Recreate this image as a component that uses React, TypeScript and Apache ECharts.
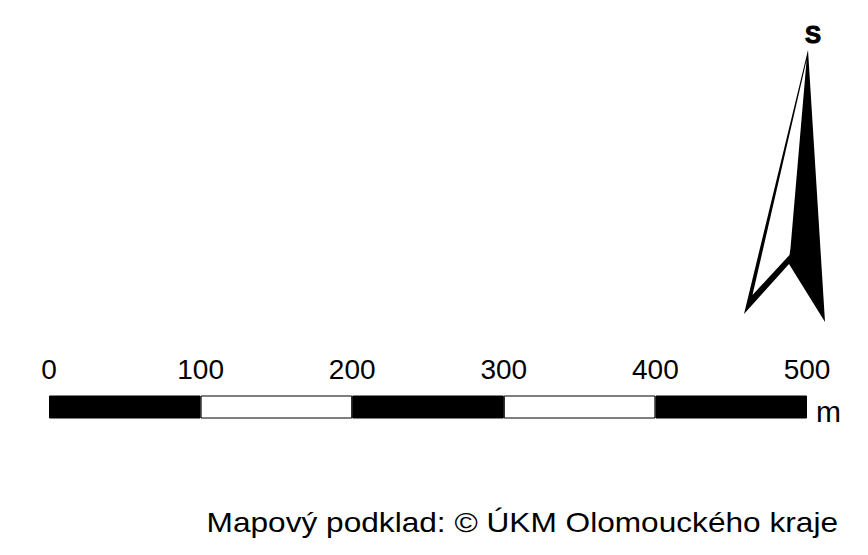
import React, { useEffect, useRef } from "react";
import * as echarts from "echarts";

// Scale bar: distance ticks (metres) and alternating segments
const tickValues = [0, 100, 200, 300, 400, 500];
const segmentLengths = [100, 100, 100, 100, 100];
const unitLabel = "m";
const northLabel = "S";
const creditText = "Mapový podklad: © ÚKM Olomouckého kraje";

export default function App() {
  const ref = useRef<HTMLDivElement>(null);
  useEffect(() => {
    if (!ref.current) return;
    const chart = echarts.init(ref.current, null, { renderer: "svg" });
    const font = "'Liberation Sans', Arial, sans-serif";
    const series = segmentLengths.map((v, i) => ({
      type: "bar",
      stack: "scale",
      data: [v],
      barWidth: 23,
      itemStyle: {
        color: i % 2 === 0 ? "#000" : "#fff",
        borderColor: "#000",
        borderWidth: 1,
      },
      silent: true,
    }));
    chart.setOption({
      animation: false,
      backgroundColor: "#fff",
      grid: { left: 49, right: 61, top: 395, height: 24 },
      xAxis: {
        type: "value",
        position: "top",
        min: tickValues[0],
        max: tickValues[tickValues.length - 1],
        interval: 100,
        axisLine: { show: false },
        axisTick: { show: false },
        splitLine: { show: false },
        axisLabel: {
          margin: 12,
          color: "#000",
          fontSize: 28,
          fontFamily: font,
          showMinLabel: true,
          showMaxLabel: true,
        },
      },
      yAxis: { type: "category", data: ["scale"], show: false },
      series,
      graphic: [
        {
          type: "polygon",
          shape: {
            points: [
              [808, 50],
              [825, 322],
              [789, 264],
              [744, 314],
            ],
          },
          style: { fill: "#000" },
          silent: true,
        },
        {
          type: "polygon",
          shape: {
            points: [
              [806.6, 60],
              [752.5, 295],
              [789.5, 255],
              [790.5, 248],
            ],
          },
          style: { fill: "#fff" },
          silent: true,
        },
        {
          type: "text",
          style: {
            text: northLabel,
            x: 813,
            y: 34,
            textAlign: "center",
            textVerticalAlign: "middle",
            font: `bold 24px ${font}`,
            fill: "#000",
            stroke: "#000",
            lineWidth: 1,
          },
        },
        {
          type: "text",
          style: {
            text: unitLabel,
            x: 816,
            y: 411,
            textAlign: "left",
            textVerticalAlign: "middle",
            fontSize: 30,
            fontFamily: font,
            fill: "#000",
          },
        },
        {
          type: "text",
          x: 838,
          y: 522,
          scaleX: 1.13,
          style: {
            text: creditText,
            x: 0,
            y: 0,
            textAlign: "right",
            textVerticalAlign: "middle",
            fontSize: 28,
            fontFamily: font,
            fill: "#000",
          },
        },
      ],
    });
    return () => chart.dispose();
  }, []);
  return (
    <div
      ref={ref}
      style={{ position: "fixed", left: 0, top: 0, width: 868, height: 555, background: "#fff" }}
    />
  );
}
